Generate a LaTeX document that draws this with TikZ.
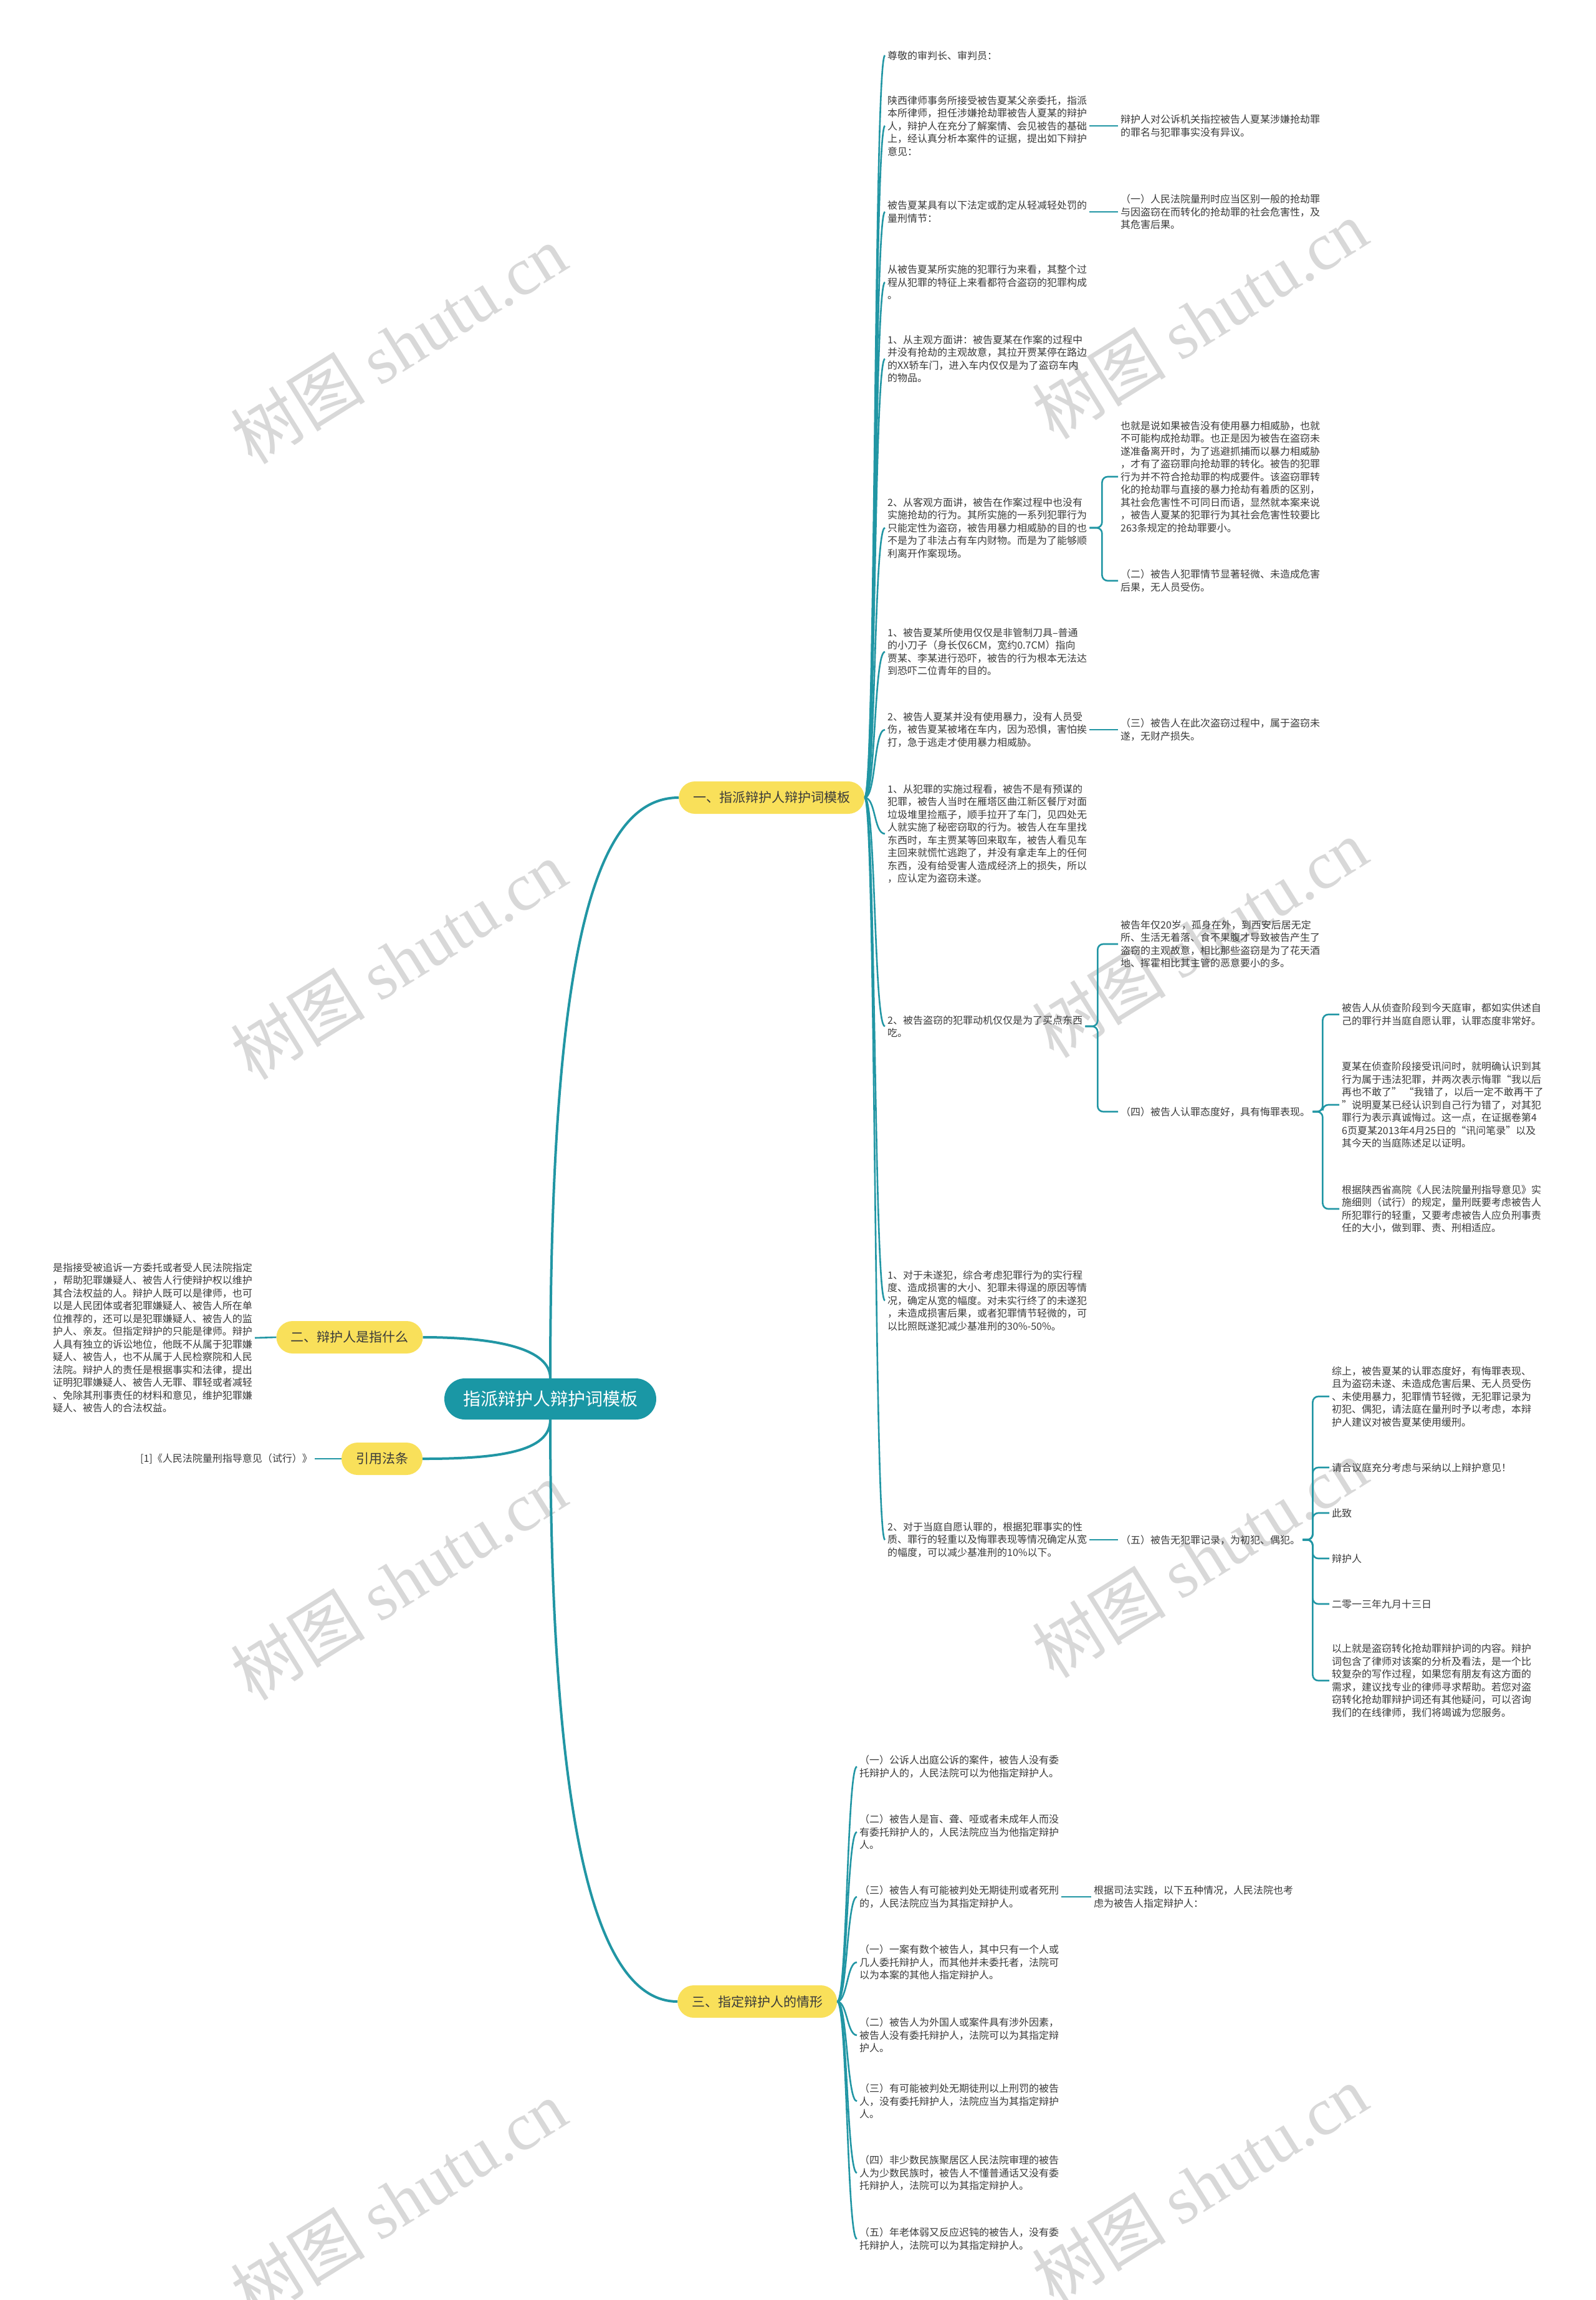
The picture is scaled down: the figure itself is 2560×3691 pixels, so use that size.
\documentclass[tikz,border=0pt]{standalone}
\usepackage{fontspec}
\setmainfont{Noto Sans CJK SC}
\newfontfamily\wmlatin{Liberation Serif}
\usetikzlibrary{positioning}
\definecolor{rootteal}{HTML}{1A97A5}
\definecolor{linkteal}{HTML}{2196A4}
\definecolor{topicyellow}{HTML}{F9E05A}
\definecolor{inkgray}{HTML}{3A3A3A}
\definecolor{wmgray}{HTML}{D8D8D8}
\tikzset{
  root/.style={
    fill=rootteal,
    text=white,
    rounded corners=33pt,
    minimum height=66pt,
    inner xsep=30pt,
    font=\fontsize{28}{34}\selectfont
  },
  topic/.style={
    fill=topicyellow,
    text=inkgray,
    rounded corners=26pt,
    minimum height=52pt,
    inner xsep=23pt,
    font=\fontsize{21}{25}\selectfont
  },
  leaf/.style={
    anchor=west,
    align=left,
    inner xsep=4pt,
    inner ysep=2pt,
    text=inkgray,
    font=\fontsize{16}{20.5}\selectfont
  },
  link/.style={draw=linkteal, line width=2.6pt},
  mainlink/.style={draw=linkteal, line width=4pt},
  elbow/.style={link, rounded corners=9pt},
  wmark/.style={text=wmgray, rotate=32, font=\fontsize{108}{112}\selectfont}
}

\begin{document}
\begin{tikzpicture}[x=1pt, y=-1pt]
  \useasboundingbox[fill=white] (0,0) rectangle (2560,3691);

  \foreach \wx/\wy [count=\i] in {640/553, 1925/513, 640/1541, 1925/1506,
      640/2537, 1925/2501, 640/3530, 1925/3506}
    \node[wmark] (wm\i) at (\wx,\wy) {树图 {\wmlatin shutu.cn}};

  \node[root] (root) at (883,2245) {指派辩护人辩护词模板};
  \node[topic, anchor=west] (part1) at (1089,1280) {一、指派辩护人辩护词模板};
  \node[topic] (part2) at (561,2146) {二、辩护人是指什么};
  \node[topic] (cite) at (613,2341) {引用法条};
  \node[topic, anchor=west] (part3) at (1087,3212) {三、指定辩护人的情形};

  \node[leaf] (greet) at (1420,89) {尊敬的审判长、审判员：};
  \node[leaf] (entrust) at (1420,202)
    {陕西律师事务所接受被告夏某父亲委托，指派\\本所律师，担任涉嫌抢劫罪被告人夏某的辩护\\人，辩护人在充分了解案情、会见被告的基础\\上，经认真分析本案件的证据，提出如下辩护\\意见：};
  \node[leaf] (noobj) at (1794,202)
    {辩护人对公诉机关指控被告人夏某涉嫌抢劫罪\\的罪名与犯罪事实没有异议。};
  \node[leaf] (factors) at (1420,340)
    {被告夏某具有以下法定或酌定从轻减轻处罚的\\量刑情节：};
  \node[leaf] (harm) at (1794,340)
    {（一）人民法院量刑时应当区别一般的抢劫罪\\与因盗窃在而转化的抢劫罪的社会危害性，及\\其危害后果。};
  \node[leaf] (theft) at (1420,453)
    {从被告夏某所实施的犯罪行为来看，其整个过\\程从犯罪的特征上来看都符合盗窃的犯罪构成\\。};
  \node[leaf] (subj) at (1420,576)
    {1、从主观方面讲：被告夏某在作案的过程中\\并没有抢劫的主观故意，其拉开贾某停在路边\\的XX轿车门，进入车内仅仅是为了盗窃车内\\的物品。};
  \node[leaf] (obj) at (1420,847)
    {2、从客观方面讲，被告在作案过程中也没有\\实施抢劫的行为。其所实施的一系列犯罪行为\\只能定性为盗窃，被告用暴力相威胁的目的也\\不是为了非法占有车内财物。而是为了能够顺\\利离开作案现场。};
  \node[leaf] (convert) at (1794,765)
    {也就是说如果被告没有使用暴力相威胁，也就\\不可能构成抢劫罪。也正是因为被告在盗窃未\\遂准备离开时，为了逃避抓捕而以暴力相威胁\\，才有了盗窃罪向抢劫罪的转化。被告的犯罪\\行为并不符合抢劫罪的构成要件。该盗窃罪转\\化的抢劫罪与直接的暴力抢劫有着质的区别，\\其社会危害性不可同日而语，显然就本案来说\\，被告人夏某的犯罪行为其社会危害性较要比\\263条规定的抢劫罪要小。};
  \node[leaf] (minor) at (1794,932)
    {（二）被告人犯罪情节显著轻微、未造成危害\\后果，无人员受伤。};
  \node[leaf] (knife) at (1420,1046)
    {1、被告夏某所使用仅仅是非管制刀具--普通\\的小刀子（身长仅6CM，宽约0.7CM）指向\\贾某、李某进行恐吓，被告的行为根本无法达\\到恐吓二位青年的目的。};
  \node[leaf] (noforce) at (1420,1171)
    {2、被告人夏某并没有使用暴力，没有人员受\\伤，被告夏某被堵在车内，因为恐惧，害怕挨\\打，急于逃走才使用暴力相威胁。};
  \node[leaf] (noloss) at (1794,1171)
    {（三）被告人在此次盗窃过程中，属于盗窃未\\遂，无财产损失。};
  \node[leaf] (process) at (1420,1338)
    {1、从犯罪的实施过程看，被告不是有预谋的\\犯罪，被告人当时在雁塔区曲江新区餐厅对面\\垃圾堆里捡瓶子，顺手拉开了车门，见四处无\\人就实施了秘密窃取的行为。被告人在车里找\\东西时，车主贾某等回来取车，被告人看见车\\主回来就慌忙逃跑了，并没有拿走车上的任何\\东西，没有给受害人造成经济上的损失，所以\\，应认定为盗窃未遂。};
  \node[leaf] (motive) at (1420,1647)
    {2、被告盗窃的犯罪动机仅仅是为了买点东西\\吃。};
  \node[leaf] (youth) at (1794,1515)
    {被告年仅20岁，孤身在外，到西安后居无定\\所、生活无着落、食不果腹才导致被告产生了\\盗窃的主观故意，相比那些盗窃是为了花天酒\\地、挥霍相比其主管的恶意要小的多。};
  \node[leaf] (attitude) at (1794,1784)
    {（四）被告人认罪态度好，具有悔罪表现。};
  \node[leaf] (admit) at (2149,1628)
    {被告人从侦查阶段到今天庭审，都如实供述自\\己的罪行并当庭自愿认罪，认罪态度非常好。};
  \node[leaf] (regret) at (2149,1773)
    {夏某在侦查阶段接受讯问时，就明确认识到其\\行为属于违法犯罪，并两次表示悔罪“我以后\\再也不敢了” “我错了，以后一定不敢再干了\\”说明夏某已经认识到自己行为错了，对其犯\\罪行为表示真诚悔过。这一点，在证据卷第4\\6页夏某2013年4月25日的“讯问笔录”以及\\其今天的当庭陈述足以证明。};
  \node[leaf] (rules) at (2149,1940)
    {根据陕西省高院《人民法院量刑指导意见》实\\施细则（试行）的规定，量刑既要考虑被告人\\所犯罪行的轻重，又要考虑被告人应负刑事责\\任的大小，做到罪、责、刑相适应。};
  \node[leaf] (attempt) at (1420,2087)
    {1、对于未遂犯，综合考虑犯罪行为的实行程\\度、造成损害的大小、犯罪未得逞的原因等情\\况，确定从宽的幅度。对未实行终了的未遂犯\\，未造成损害后果，或者犯罪情节轻微的，可\\以比照既遂犯减少基准刑的30\%-50\%。};
  \node[leaf] (confess) at (1420,2471)
    {2、对于当庭自愿认罪的，根据犯罪事实的性\\质、罪行的轻重以及悔罪表现等情况确定从宽\\的幅度，可以减少基准刑的10\%以下。};
  \node[leaf] (record) at (1794,2471) {（五）被告无犯罪记录，为初犯、偶犯。};
  \node[leaf] (summary) at (2133,2241)
    {综上，被告夏某的认罪态度好，有悔罪表现、\\且为盗窃未遂、未造成危害后果、无人员受伤\\、未使用暴力，犯罪情节轻微，无犯罪记录为\\初犯、偶犯，请法庭在量刑时予以考虑，本辩\\护人建议对被告夏某使用缓刑。};
  \node[leaf] (plea) at (2133,2355) {请合议庭充分考虑与采纳以上辩护意见！};
  \node[leaf] (salute) at (2133,2428) {此致};
  \node[leaf] (signer) at (2133,2501) {辩护人};
  \node[leaf] (date) at (2133,2574) {二零一三年九月十三日};
  \node[leaf] (outro) at (2133,2697)
    {以上就是盗窃转化抢劫罪辩护词的内容。辩护\\词包含了律师对该案的分析及看法，是一个比\\较复杂的写作过程，如果您有朋友有这方面的\\需求，建议找专业的律师寻求帮助。若您对盗\\窃转化抢劫罪辩护词还有其他疑问，可以咨询\\我们的在线律师，我们将竭诚为您服务。};

  \node[leaf, anchor=east] (define) at (409,2147)
    {是指接受被追诉一方委托或者受人民法院指定\\，帮助犯罪嫌疑人、被告人行使辩护权以维护\\其合法权益的人。辩护人既可以是律师，也可\\以是人民团体或者犯罪嫌疑人、被告人所在单\\位推荐的，还可以是犯罪嫌疑人、被告人的监\\护人、亲友。但指定辩护的只能是律师。辩护\\人具有独立的诉讼地位，他既不从属于犯罪嫌\\疑人、被告人，也不从属于人民检察院和人民\\法院。辩护人的责任是根据事实和法律，提出\\证明犯罪嫌疑人、被告人无罪、罪轻或者减轻\\、免除其刑事责任的材料和意见，维护犯罪嫌\\疑人、被告人的合法权益。};
  \node[leaf, anchor=east] (law) at (505,2341)
    {[1]《人民法院量刑指导意见（试行）》};

  \node[leaf] (case1) at (1375,2835)
    {（一）公诉人出庭公诉的案件，被告人没有委\\托辩护人的，人民法院可以为他指定辩护人。};
  \node[leaf] (case2) at (1375,2940)
    {（二）被告人是盲、聋、哑或者未成年人而没\\有委托辩护人的，人民法院应当为他指定辩护\\人。};
  \node[leaf] (case3) at (1375,3044)
    {（三）被告人有可能被判处无期徒刑或者死刑\\的，人民法院应当为其指定辩护人。};
  \node[leaf] (practice) at (1751,3044)
    {根据司法实践，以下五种情况，人民法院也考\\虑为被告人指定辩护人：};
  \node[leaf] (extra1) at (1375,3149)
    {（一）一案有数个被告人，其中只有一个人或\\几人委托辩护人，而其他并未委托者，法院可\\以为本案的其他人指定辩护人。};
  \node[leaf] (extra2) at (1375,3266)
    {（二）被告人为外国人或案件具有涉外因素，\\被告人没有委托辩护人，法院可以为其指定辩\\护人。};
  \node[leaf] (extra3) at (1375,3372)
    {（三）有可能被判处无期徒刑以上刑罚的被告\\人，没有委托辩护人，法院应当为其指定辩护\\人。};
  \node[leaf] (extra4) at (1375,3487)
    {（四）非少数民族聚居区人民法院审理的被告\\人为少数民族时，被告人不懂普通话又没有委\\托辩护人，法院可以为其指定辩护人。};
  \node[leaf] (extra5) at (1375,3593)
    {（五）年老体弱又反应迟钝的被告人，没有委\\托辩护人，法院可以为其指定辩护人。};

  \draw[mainlink] (root.north) .. controls (883,1500) and (960,1280) .. (part1.west);
  \draw[mainlink] (root.north) .. controls (883,2165) and (800,2146) .. (part2.east);
  \draw[mainlink] (root.south) .. controls (883,2330) and (800,2341) .. (cite.east);
  \draw[mainlink] (root.south) .. controls (883,2950) and (960,3212) .. (part3.west);

  \foreach \n in {greet, entrust, factors, theft, subj, obj, knife, noforce,
      process, motive, attempt, confess}
    \draw[link] (part1.east) .. controls +(18,0) and +(-18,0) .. (\n.west);
  \foreach \n in {case1, case2, case3, extra1, extra2, extra3, extra4, extra5}
    \draw[link] (part3.east) .. controls +(16,0) and +(-16,0) .. (\n.west);

  \draw[link] (entrust.east) -- (noobj.west);
  \draw[link] (factors.east) -- (harm.west);
  \draw[link] (noforce.east) -- (noloss.west);
  \draw[link] (confess.east) -- (record.west);
  \draw[link] (case3.east) -- (practice.west);
  \draw[link] (part2.west) -- (define.east);
  \draw[link] (cite.west) -- (law.east);

  \foreach \n in {convert, minor}
    \draw[elbow] (obj.east) -- ++(20,0) |- (\n.west);
  \foreach \n in {youth, attitude}
    \draw[elbow] (motive.east) -- ++(20,0) |- (\n.west);
  \foreach \n in {admit, regret, rules}
    \draw[elbow] (attitude.east) -- ++(16,0) |- (\n.west);
  \foreach \n in {summary, plea, salute, signer, date, outro}
    \draw[elbow] (record.east) -- ++(16,0) |- (\n.west);
\end{tikzpicture}
\end{document}
